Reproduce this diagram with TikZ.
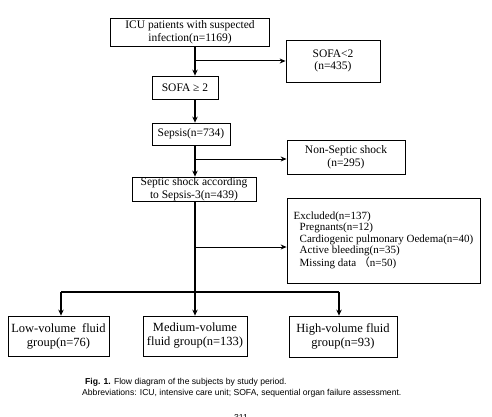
\documentclass[tikz,border=0pt]{standalone}
\usepackage{fontspec}
\setmainfont{Liberation Serif}
\newfontfamily\capfont{Liberation Sans}
\newfontfamily\cjk{Noto Sans CJK SC}
\usetikzlibrary{arrows.meta}
\tikzset{
  box/.style={draw, line width=0.8pt, align=center, inner sep=0.5pt,
    font=\fontsize{11.5}{12.5}\selectfont},
  grpbox/.style={box, font=\fontsize{12.5}{14}\selectfont},
  trunk/.style={line width=1.6pt, -{Stealth[length=6pt,width=5.5pt]}},
  side/.style={line width=1pt, -{Stealth[length=6pt,width=5pt]}},
  captext/.style={anchor=base west, inner sep=0, font=\capfont\fontsize{8.6}{10}\selectfont},
}
\begin{document}
\begin{tikzpicture}[x=1pt,y=-1pt]
        \useasboundingbox (0,0) rectangle (492,417);
        % boxes
        \node[box, minimum width=159, minimum height=28] (icu) at (190,32) {ICU patients with suspected\\infection(n=1169)};
        \node[box, minimum width=94, minimum height=42] (sofalow) at (333,61) {SOFA<2\\(n=435)};
        \node[box, minimum width=66, minimum height=23] (sofa) at (185,87.5) {SOFA ≥ 2};
        \node[box, minimum width=78, minimum height=22] (sepsis) at (191,134) {Sepsis(n=734)};
        \node[box, minimum width=118, minimum height=34] (nonseptic) at (346,157) {Non-Septic shock\\(n=295)};
        \node[box, minimum width=124, minimum height=24] (septic) at (194,189) {Septic shock according\\to Sepsis-3(n=439)};
        \node[box, minimum width=193, minimum height=85, align=left, inner xsep=1pt,
              font=\fontsize{11}{11.5}\selectfont] (excluded) at (383.5,240.5)
              {Excluded(n=137)\\
               \hspace*{6pt}Pregnants(n=12)\\
               \hspace*{6pt}Cardiogenic pulmonary Oedema(n=40)\\
               \hspace*{6pt}Active bleeding(n=35)\\
               \hspace*{6pt}Missing data {\cjk （}n=50)};
        \node[grpbox, minimum width=101, minimum height=40] (low) at (58.5,336) {Low-volume\ \ fluid\\group(n=76)};
        \node[grpbox, minimum width=104, minimum height=40] (medium) at (195,336) {Medium-volume\\fluid group(n=133)};
        \node[grpbox, minimum width=108, minimum height=41] (high) at (343,336.5) {High-volume fluid\\group(n=93)};
        % trunk and bar
        \coordinate (mainx) at (195,0);
        \coordinate (barL) at (61,292);
        \coordinate (barR) at (339,292);
        \draw[trunk] (icu.south -| mainx) -- (sofa.north -| mainx);
        \draw[trunk] (sofa.south -| mainx) -- (sepsis.north -| mainx);
        \draw[trunk] (sepsis.south -| mainx) -- (septic.north -| mainx);
        \draw[trunk] (septic.south -| mainx) -- (medium.north -| mainx);
        \draw[line width=1.6pt] (barL) -- (barR);
        \draw[trunk] (barL) -- (low.north -| barL);
        \draw[trunk] (barR) -- (high.north -| barR);
        % side branches
        \draw[side] (sofalow.west -| mainx) -- (sofalow.west);
        \draw[side] (nonseptic.west -| mainx) ++(0,2) -- ([yshift=-2pt]nonseptic.west);
        \draw[side] ([yshift=-6.5pt]excluded.west -| mainx) -- ([yshift=-6.5pt]excluded.west);
        % caption
        \node[captext] (figcap) at (85,384) {\textbf{Fig. 1.} Flow diagram of the subjects by study period.};
        \node[captext] (abbrev) at (82,395) {Abbreviations: ICU, intensive care unit; SOFA, sequential organ failure assessment.};
        \node[captext, anchor=base] (pagenum) at (241,420) {311};
    \end{tikzpicture}
\end{document}
